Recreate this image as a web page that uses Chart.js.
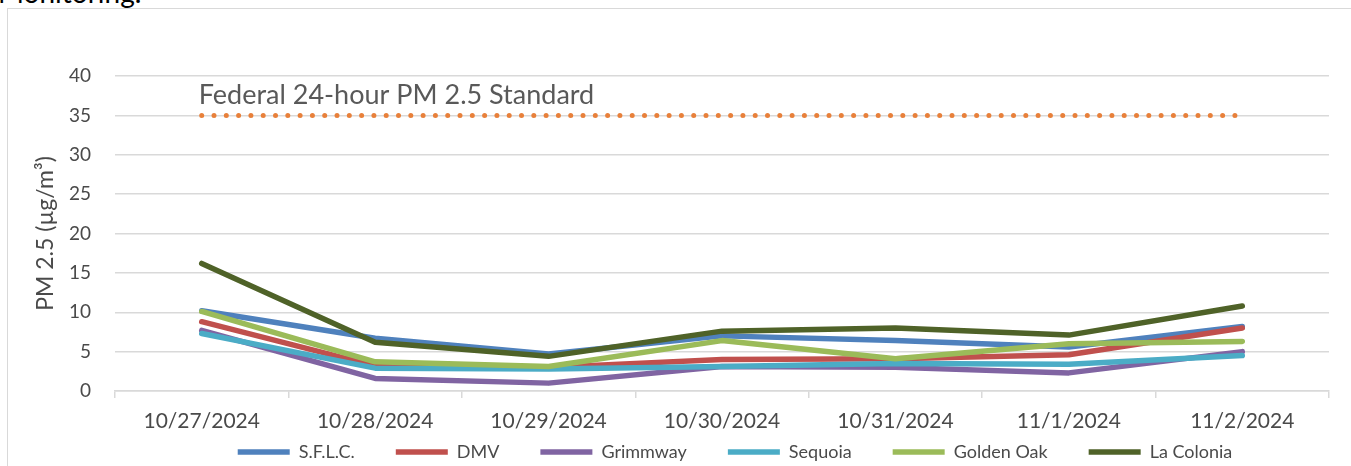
<!DOCTYPE html>
<html>
<head>
<meta charset="utf-8">
<script src="https://cdn.jsdelivr.net/npm/chart.js@4.4.1/dist/chart.umd.min.js"></script>
<style>
  body { margin: 0; background: #fff; overflow: hidden; }
  #wrap { position: relative; width: 1351px; height: 466px; overflow: hidden; }
  #frame { position: absolute; left: 7px; top: 8px; width: 1400px; height: 500px;
           border: 1px solid #d9d9d9; box-sizing: border-box; pointer-events: none; }
  #heading { position: absolute; left: -2px; top: -22px; font: 28px/28px Lato, sans-serif;
             color: #000; white-space: nowrap; }
  canvas { position: absolute; left: 0; top: 0; }
</style>
</head>
<body>
<div id="wrap">
  <div id="heading">Monitoring.</div>
  <div id="frame"></div>
  <canvas id="myChart" width="1351" height="466"></canvas>
</div>
<script>
// DATA

const dates = ["10/27/2024", "10/28/2024", "10/29/2024", "10/30/2024", "10/31/2024", "11/1/2024", "11/2/2024"];
const sflc = [10.2, 6.7, 4.7, 7.0, 6.4, 5.6, 8.2];
const dmv = [8.8, 3.2, 3.0, 4.0, 4.1, 4.6, 8.0];
const grimmway = [7.7, 1.6, 1.0, 3.1, 3.0, 2.3, 5.0];
const sequoia = [7.3, 2.9, 2.8, 3.1, 3.5, 3.4, 4.5];
const goldenOak = [10.1, 3.7, 3.1, 6.4, 4.1, 6.0, 6.3];
const laColonia = [16.2, 6.2, 4.4, 7.6, 8.0, 7.1, 10.8];
const standard = [35, 35, 35, 35, 35, 35, 35];
const standardLabel = "Federal 24-hour PM 2.5 Standard";
const yTicks = [0, 5, 10, 15, 20, 25, 30, 35, 40];

// SERIES

function series(label, data, color, order) {
  return {
    label: label,
    data: data,
    borderColor: color,
    backgroundColor: color,
    borderWidth: 5.5,
    borderCapStyle: "round",
    borderJoinStyle: "round",
    pointRadius: 0,
    tension: 0,
    order: order,
  };
}

const datasets = [
  series("S.F.L.C.", sflc, "#4F81BD", 6),
  series("DMV", dmv, "#C0504D", 5),
  series("Grimmway", grimmway, "#8064A2", 4),
  series("Sequoia", sequoia, "#4BACC6", 3),
  series("Golden Oak", goldenOak, "#9BBB59", 2),
  series("La Colonia", laColonia, "#4F6228", 1),
  {
    label: standardLabel,
    data: standard,
    borderColor: "#E8803A",
    borderWidth: 5,
    borderDash: [0, 12.3],
    borderCapStyle: "round",
    pointRadius: 0,
    order: 7,
  },
];

// STANDARD LABEL

const standardText = {
  id: "standardText",
  afterDatasetsDraw(chart) {
    const x = chart.scales.x.getPixelForValue(0) - 3;
    const y = chart.scales.y.getPixelForValue(35) - 11;
    const ctx = chart.ctx;
    ctx.save();
    ctx.font = "27px Lato";
    ctx.fillStyle = "#595959";
    ctx.textAlign = "left";
    ctx.textBaseline = "alphabetic";
    ctx.fillText(standardLabel, x, y);
    ctx.restore();
  },
};

// DRAWING GRAPH

const ctx = document.getElementById("myChart").getContext("2d");
let myChart = new Chart(ctx, {
  type: "line",
  data: { labels: dates, datasets: datasets },
  plugins: [standardText],
  options: {
    responsive: false,
    animation: false,
    devicePixelRatio: 1,
    layout: { padding: { left: 0, right: -119, top: 76, bottom: -5 } },
    plugins: {
      tooltip: { enabled: false },
      legend: {
        position: "bottom",
        labels: {
          font: { family: "Lato", size: 18 },
          color: "#4a4a4a",
          usePointStyle: true,
          pointStyle: "line",
          pointStyleWidth: 52,
          padding: 41,
          filter: (item) => item.text !== standardLabel,
          sort: (a, b) => a.datasetIndex - b.datasetIndex,
        },
      },
    },
    scales: {
      x: {
        offset: true,
        grid: {
          offset: true,
          drawOnChartArea: false,
          drawTicks: true,
          tickLength: 7,
          color: "#d9d9d9",
          lineWidth: 1.5,
        },
        border: { color: "#d9d9d9", width: 1.5 },
        // mirror keeps the labels from being clipped to the thin axis box
        ticks: {
          font: { family: "Lato", size: 21 },
          color: "#4a4a4a",
          mirror: true,
          padding: -43,
          maxRotation: 0,
          autoSkip: false,
        },
        afterFit: (scale) => { scale.height = 11; },
      },
      y: {
        min: 0,
        max: 40,
        afterBuildTicks: (scale) => { scale.ticks = yTicks.map((v) => ({ value: v })); },
        grid: { color: "#d9d9d9", lineWidth: 1.5, drawTicks: false },
        border: { display: false },
        ticks: {
          font: { family: "Lato", size: 19 },
          color: "#4a4a4a",
          padding: 24,
        },
        title: {
          display: true,
          text: "PM 2.5 (µg/m³)",
          font: { family: "Lato", size: 23 },
          color: "#4a4a4a",
          padding: { top: 32, bottom: 0 },
        },
        afterFit: (scale) => { scale.width = 115; },
      },
      yPad: {
        position: "right",
        display: true,
        ticks: { display: false },
        grid: { display: false },
        border: { display: false },
        afterFit: (scale) => { scale.width = 141; },
      },
    },
  },
});
</script>
</body>
</html>
